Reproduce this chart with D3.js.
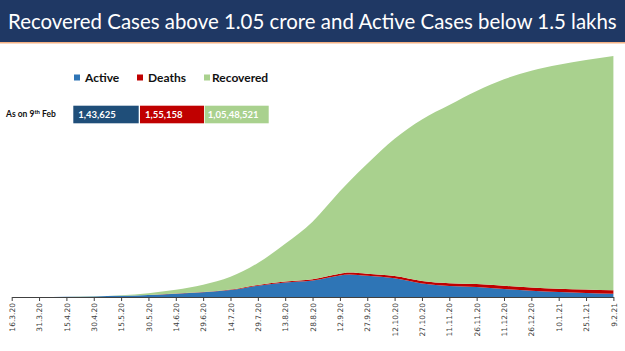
<!DOCTYPE html>
<html>
<head>
<meta charset="utf-8">
<script src="https://cdn.jsdelivr.net/npm/d3@7"></script>
<style>
  body { margin: 0; background: #fff; }
  svg { display: block; }
</style>
</head>
<body>
<div id="chart"></div>
<script>
// cumulative values, India, every 15 days (plus the active peak on 17.9.20)
const dates = ["16.3.20", "31.3.20", "15.4.20", "30.4.20", "15.5.20", "30.5.20", "14.6.20", "29.6.20",
    "14.7.20", "29.7.20", "13.8.20", "28.8.20", "12.9.20", "17.9.20", "27.9.20", "12.10.20", "27.10.20",
    "11.11.20", "26.11.20", "11.12.20", "26.12.20", "10.1.21", "25.1.21", "9.2.21"];
const active = [100, 1238, 10197, 23651, 51401, 86422, 149348, 210120,
    311565, 509447, 653622, 742023, 973175, 1017754, 956402, 838729, 603687,
    494657, 452344, 364086, 281919, 222526, 184182, 143625];
const deaths = [2, 35, 392, 1074, 2649, 4971, 9195, 16475,
    23727, 34193, 47033, 61529, 78586, 83198, 94503, 109150, 120010,
    127571, 135223, 142186, 147622, 151160, 153470, 155158];
const recovered = [14, 124, 1344, 8325, 27920, 82370, 162379, 321723,
    571460, 988029, 1695982, 2583948, 3702595, 4090000, 4941627, 6172659, 7266625,
    8013783, 8679138, 9290497, 9758309, 10076598, 10330084, 10548521];
const tickLabels = ["16.3.20", "31.3.20", "15.4.20", "30.4.20", "15.5.20", "30.5.20", "14.6.20", "29.6.20",
    "14.7.20", "29.7.20", "13.8.20", "28.8.20", "12.9.20", "27.9.20", "12.10.20", "27.10.20",
    "11.11.20", "26.11.20", "11.12.20", "26.12.20", "10.1.21", "25.1.21", "9.2.21"];
const seriesNames = ["Active", "Deaths", "Recovered"];
const snapshot = ["1,43,625", "1,55,158", "1,05,48,521"];

const width = 625, height = 351;
const colors = { Active: "#2E75B6", Deaths: "#C00000", Recovered: "#A9D18E" };
const boxColors = ["#1F4E79", "#C00000", "#A9D18E"];

const parse = d3.timeParse("%d.%m.%y");

const rows = dates.map((d, i) => ({
    date: parse(d),
    Active: active[i],
    Deaths: deaths[i],
    Recovered: recovered[i]
}));

const svg = d3.select("#chart").append("svg")
    .attr("width", width)
    .attr("height", height);

// title band
svg.append("rect")
    .attr("x", 0).attr("y", 0)
    .attr("width", width).attr("height", 42)
    .attr("fill", "#1F3864");
svg.append("rect")
    .attr("x", 0).attr("y", 42)
    .attr("width", width).attr("height", 1.5)
    .attr("fill", "#F4B183");

const title = svg.append("text")
    .attr("x", 8)
    .attr("y", 29)
    .attr("fill", "#fff")
    .style("font-family", "Lato, 'Open Sans', sans-serif")
    .style("font-size", "23px")
    .text("Recovered Cases above 1.05 crore and Active Cases below 1.5 lakhs");
const tw = title.node().getComputedTextLength();
title.style("font-size", (23 * 609 / tw).toFixed(2) + "px");

// chart
const x = d3.scaleTime()
    .domain([parse("16.3.20"), parse("9.2.21")])
    .range([11.7, 613.4]);

const y = d3.scaleLinear()
    .domain([0, 11000000])
    .range([297, 52.6]);

const stack = d3.stack().keys(seriesNames);
const layers = stack(rows);

const area = d3.area()
    .x(d => x(d.data.date))
    .y0(d => y(d[0]))
    .y1(d => y(d[1]))
    .curve(d3.curveMonotoneX);

svg.append("g")
    .selectAll("path")
    .data(layers)
    .join("path")
    .attr("fill", d => colors[d.key])
    .attr("d", area);

// x axis
const tickDates = tickLabels.map(parse);
const xAxis = svg.append("g")
    .attr("transform", "translate(0,297)")
    .call(d3.axisBottom(x)
        .tickValues(tickDates)
        .tickSize(4)
        .tickSizeOuter(0)
        .tickFormat((d, i) => tickLabels[i]));

xAxis.select(".domain").attr("stroke", "#404040");
xAxis.selectAll(".tick line").attr("stroke", "#404040");
xAxis.selectAll(".tick text")
    .attr("transform", "translate(0,6) rotate(-90)")
    .attr("x", 0)
    .attr("y", 0)
    .attr("dy", "0.35em")
    .style("text-anchor", "end")
    .style("font-family", "'DejaVu Sans', Verdana, sans-serif")
    .style("font-size", "7.5px")
    .attr("fill", "#404040");

// legend
const legendX = [74, 137, 204];
const legend = svg.append("g");
seriesNames.forEach((name, i) => {
    legend.append("rect")
        .attr("x", legendX[i]).attr("y", 74.5)
        .attr("width", 6).attr("height", 6)
        .attr("fill", colors[name]);
    legend.append("text")
        .attr("x", legendX[i] + (i === 2 ? 8 : 11))
        .attr("y", 77.5)
        .attr("dy", "0.35em")
        .style("font-family", "Lato, 'Open Sans', sans-serif")
        .style("font-weight", "bold")
        .style("font-size", "12px")
        .attr("fill", "#111")
        .text(name);
});

// snapshot row
const label = svg.append("text")
    .attr("x", 6)
    .attr("y", 114.5)
    .attr("dy", "0.35em")
    .style("font-family", "Lato, 'Open Sans', sans-serif")
    .style("font-weight", "bold")
    .style("font-size", "8.5px")
    .attr("fill", "#111");
label.append("tspan").text("As on 9");
label.append("tspan").attr("dy", "-3").style("font-size", "6px").text("th");
label.append("tspan").attr("dy", "3").text(" Feb");

const boxX = [73.3, 140, 204.7];
const boxW = [65.4, 64, 64];
snapshot.forEach((v, i) => {
    svg.append("rect")
        .attr("x", boxX[i]).attr("y", 105.7)
        .attr("width", boxW[i]).attr("height", 17.6)
        .attr("fill", boxColors[i]);
    svg.append("text")
        .attr("x", boxX[i] + (i === 2 ? 3 : 5))
        .attr("y", 114.5)
        .attr("dy", "0.35em")
        .style("font-family", "Lato, 'Open Sans', sans-serif")
        .style("font-weight", "bold")
        .style("font-size", "9.5px")
        .attr("fill", "#fff")
        .text(v);
});
</script>
</body>
</html>
